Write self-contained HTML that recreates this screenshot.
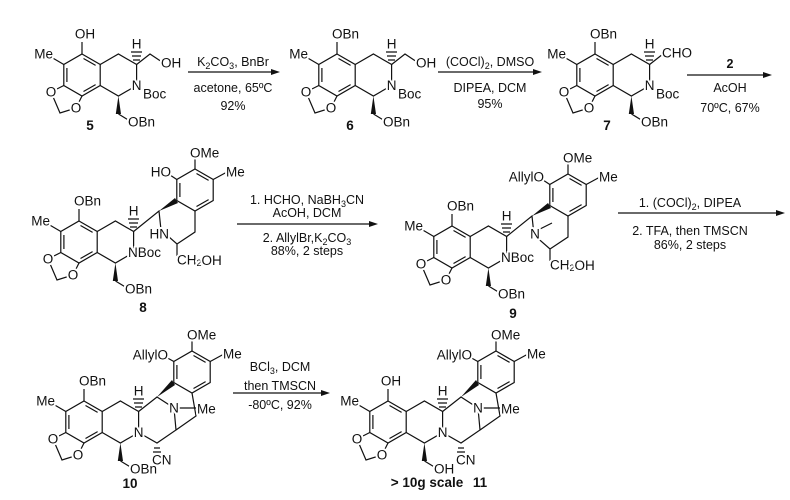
<!DOCTYPE html>
<html><head><meta charset="utf-8"><style>
html,body{margin:0;padding:0;background:#fff;}
svg{display:block;}
text{font-family:"Liberation Sans",sans-serif;font-size:13.5px;fill:#111;}
.l text{paint-order:stroke;stroke:#fff;stroke-width:4px;stroke-linejoin:round;dominant-baseline:central;}
.c{text-anchor:middle}.e{text-anchor:end}
.r{font-size:12.5px;text-anchor:middle}
.b{font-weight:bold;font-size:13.5px;text-anchor:middle}
path,line{stroke:#111;stroke-width:1.2;fill:none;}
</style></head><body>
<svg width="790" height="500" viewBox="0 0 790 500" xmlns="http://www.w3.org/2000/svg">
<defs>
<g id="sk">
<path d="M0,-21 L18.2,-10.5 L18.2,10.5 L0,21 L-18.2,10.5 L-18.2,-10.5 Z"/>
<path d="M18.2,-10.5 L36.4,-21 L54.6,-10.5 L54.6,10.5 L36.4,21 L18.2,10.5"/>
<path d="M1.5,-16.5 L13.6,-9.6 M13.6,9.6 L1.5,16.5 M-15.1,7 L-15.1,-7"/>
<path d="M-18.2,10.5 L-31,17 L-22,38 L-6,33 L0,21"/>
<path d="M-18.2,-10.5 L-31,-18 M0,-21 L0,-33 M36.5,39 L48,46"/>
<polygon points="36.4,21 33.8,39 39,39" fill="#111"/>
<path d="M51,-15 h7 M50,-19 h9 M49,-23 h11"/>
<circle cx="-31" cy="17" r="6" fill="#fff"/>
<circle cx="-6" cy="33" r="6" fill="#fff"/>
</g>
<g id="ring">
<path d="M0,-21 L18.2,-10.5 L18.2,10.5 L0,21 L-18.2,10.5 L-18.2,-10.5 Z"/>
<path d="M1.5,-16.5 L13.6,-9.6 M13.6,9.6 L1.5,16.5 M-15.1,7 L-15.1,-7"/>
</g>
</defs>

<g transform="translate(82,75)">
<use href="#sk"/><path d="M54.6,-10.5 L68,-21 L80,-13 M54.6,10.5 L63,17"/>
<g class="l"><text x="-31" y="17" class="c">O</text><text x="-6" y="33" class="c">O</text><text x="-29" y="-21" class="e">Me</text><text x="3" y="-41" class="c">OH</text><text x="54.6" y="10.5" class="c">N</text><text x="46" y="47">OBn</text><text x="54.6" y="-31" class="c">H</text><text x="79" y="-12">OH</text><text x="61" y="19">Boc</text></g>
</g>
<g transform="translate(337,75)">
<use href="#sk"/><path d="M54.6,-10.5 L68,-21 L80,-13 M54.6,10.5 L63,17"/>
<g class="l"><text x="-31" y="17" class="c">O</text><text x="-6" y="33" class="c">O</text><text x="-29" y="-21" class="e">Me</text><text x="-5" y="-41">OBn</text><text x="54.6" y="10.5" class="c">N</text><text x="46" y="47">OBn</text><text x="54.6" y="-31" class="c">H</text><text x="79" y="-12">OH</text><text x="61" y="19">Boc</text></g>
</g>
<g transform="translate(595,75)">
<use href="#sk"/><path d="M54.6,-10.5 L68,-21 M54.6,10.5 L63,17"/>
<g class="l"><text x="-31" y="17" class="c">O</text><text x="-6" y="33" class="c">O</text><text x="-29" y="-21" class="e">Me</text><text x="-5" y="-41">OBn</text><text x="54.6" y="10.5" class="c">N</text><text x="46" y="47">OBn</text><text x="54.6" y="-31" class="c">H</text><text x="67" y="-22">CHO</text><text x="61" y="19">Boc</text></g>
</g>
<text x="90" y="130" class="b">5</text><text x="350" y="130" class="b">6</text><text x="607" y="130" class="b">7</text>

<path d="M188,72 H274"/><polygon points="280,72 271,69 271,75" fill="#111"/>
<text x="233" y="66" class="r">K<tspan font-size="9" dy="3">2</tspan><tspan dy="-3">CO</tspan><tspan font-size="9" dy="3">3</tspan><tspan dy="-3">, BnBr</tspan></text>
<text x="233" y="92" class="r">acetone, 65ºC</text><text x="233" y="110" class="r">92%</text>
<path d="M438,72 H536"/><polygon points="542,72 533,69 533,75" fill="#111"/>
<text x="490" y="66" class="r">(COCl)<tspan font-size="9" dy="3">2</tspan><tspan dy="-3">, DMSO</tspan></text>
<text x="490" y="92" class="r">DIPEA, DCM</text><text x="490" y="108" class="r">95%</text>
<path d="M687,75 H766"/><polygon points="772,75 763,72 763,78" fill="#111"/>
<text x="730" y="68" class="b" style="font-size:12.5px">2</text>
<text x="730" y="92" class="r">AcOH</text><text x="730" y="112" class="r">70ºC, 67%</text>

<g transform="translate(79,242)">
<use href="#sk"/><use href="#ring" transform="translate(116,-52)"/>
<path d="M54.6,-10.5 L80,-31 L82,-12 L98,2 L116,-10 L116,-31 M98,2 L98,14 M116,-73 L116,-83 M134.2,-62.5 L148,-70 M97.8,-62.5 L88,-69"/>
<polygon points="80,-31 96,-44 99,-39" fill="#111"/>
<g class="l"><text x="-31" y="17" class="c">O</text><text x="-6" y="33" class="c">O</text><text x="-29" y="-21" class="e">Me</text><text x="-5" y="-41">OBn</text><text x="49" y="10.5">NBoc</text><text x="46" y="47">OBn</text><text x="54.6" y="-31" class="c">H</text><text x="90" y="-8" class="e">HN</text><text x="98" y="18">CH<tspan font-size="9" dy="3">2</tspan><tspan dy="-3">OH</tspan></text><text x="111" y="-89">OMe</text><text x="147" y="-70">Me</text><text x="92" y="-70" class="e">HO</text></g>
</g>
<g transform="translate(452,247)">
<use href="#sk"/><use href="#ring" transform="translate(116,-52)"/>
<path d="M54.6,-10.5 L80,-31 L82,-12 L98,2 L116,-10 L116,-31 M98,2 L98,14 M116,-73 L116,-83 M134.2,-62.5 L148,-70 M97.8,-62.5 L88,-69 M84,-16 L100,-24"/>
<polygon points="80,-31 96,-44 99,-39" fill="#111"/>
<g class="l"><text x="-31" y="17" class="c">O</text><text x="-6" y="33" class="c">O</text><text x="-29" y="-21" class="e">Me</text><text x="-5" y="-41">OBn</text><text x="49" y="10.5">NBoc</text><text x="46" y="47">OBn</text><text x="54.6" y="-31" class="c">H</text><text x="83" y="-13" class="c">N</text><text x="98" y="18">CH<tspan font-size="9" dy="3">2</tspan><tspan dy="-3">OH</tspan></text><text x="111" y="-89">OMe</text><text x="147" y="-70">Me</text><text x="92" y="-70" class="e">AllylO</text></g>
</g>
<text x="143" y="312" class="b">8</text><text x="513" y="318" class="b">9</text>

<path d="M237,224 H372"/><polygon points="378,224 369,221 369,227" fill="#111"/>
<text x="307" y="204" class="r">1. HCHO, NaBH<tspan font-size="9" dy="3">3</tspan><tspan dy="-3">CN</tspan></text>
<text x="307" y="217" class="r">AcOH, DCM</text>
<text x="307" y="242" class="r">2. AllylBr,K<tspan font-size="9" dy="3">2</tspan><tspan dy="-3">CO</tspan><tspan font-size="9" dy="3">3</tspan></text>
<text x="307" y="255" class="r">88%, 2 steps</text>
<path d="M618,213 H778"/><polygon points="785,213 776,210 776,216" fill="#111"/>
<text x="690" y="207" class="r">1. (COCl)<tspan font-size="9" dy="3">2</tspan><tspan dy="-3">, DIPEA</tspan></text>
<text x="690" y="235" class="r">2. TFA, then TMSCN</text>
<text x="690" y="249" class="r">86%, 2 steps</text>

<g transform="translate(84,422)">
<use href="#sk"/><use href="#ring" transform="translate(108,-50)"/>
<path d="M54.6,-10.5 L73,-25 L90,-14 M90,-14 L112,-14 M54.6,10.5 L73,21 L92,8 L90,-14 M92,8 L112,-6 L108,-29 M108,-71 L108,-81 M126.2,-60.5 L140,-68 M89.8,-60.5 L80,-66 M70,26 h6 M69,30 h8"/>
<polygon points="73,-25 88,-42 91,-37" fill="#111"/>
<g class="l"><text x="-31" y="17" class="c">O</text><text x="-6" y="33" class="c">O</text><text x="-29" y="-21" class="e">Me</text><text x="-5" y="-41">OBn</text><text x="54.6" y="10.5" class="c">N</text><text x="46" y="47">OBn</text><text x="54.6" y="-31" class="c">H</text><text x="90" y="-14" class="c">N</text><text x="113" y="-13">Me</text><text x="68" y="38">CN</text><text x="103" y="-87">OMe</text><text x="139" y="-68">Me</text><text x="84" y="-67" class="e">AllylO</text></g>
</g>
<g transform="translate(388,422)">
<use href="#sk"/><use href="#ring" transform="translate(108,-50)"/>
<path d="M54.6,-10.5 L73,-25 L90,-14 M90,-14 L112,-14 M54.6,10.5 L73,21 L92,8 L90,-14 M92,8 L112,-6 L108,-29 M108,-71 L108,-81 M126.2,-60.5 L140,-68 M89.8,-60.5 L80,-66 M70,26 h6 M69,30 h8"/>
<polygon points="73,-25 88,-42 91,-37" fill="#111"/>
<g class="l"><text x="-31" y="17" class="c">O</text><text x="-6" y="33" class="c">O</text><text x="-29" y="-21" class="e">Me</text><text x="3" y="-41" class="c">OH</text><text x="54.6" y="10.5" class="c">N</text><text x="46" y="47">OH</text><text x="54.6" y="-31" class="c">H</text><text x="90" y="-14" class="c">N</text><text x="113" y="-13">Me</text><text x="68" y="38">CN</text><text x="103" y="-87">OMe</text><text x="139" y="-68">Me</text><text x="84" y="-67" class="e">AllylO</text></g>
</g>
<text x="130" y="488" class="b">10</text>
<text x="427" y="487" class="b">&gt; 10g scale</text><text x="480" y="487" class="b">11</text>

<path d="M233,393 H324"/><polygon points="330,393 321,390 321,396" fill="#111"/>
<text x="280" y="371" class="r">BCl<tspan font-size="9" dy="3">3</tspan><tspan dy="-3">, DCM</tspan></text>
<text x="280" y="390" class="r">then TMSCN</text>
<text x="280" y="409" class="r">-80ºC, 92%</text>
</svg>
</body></html>
